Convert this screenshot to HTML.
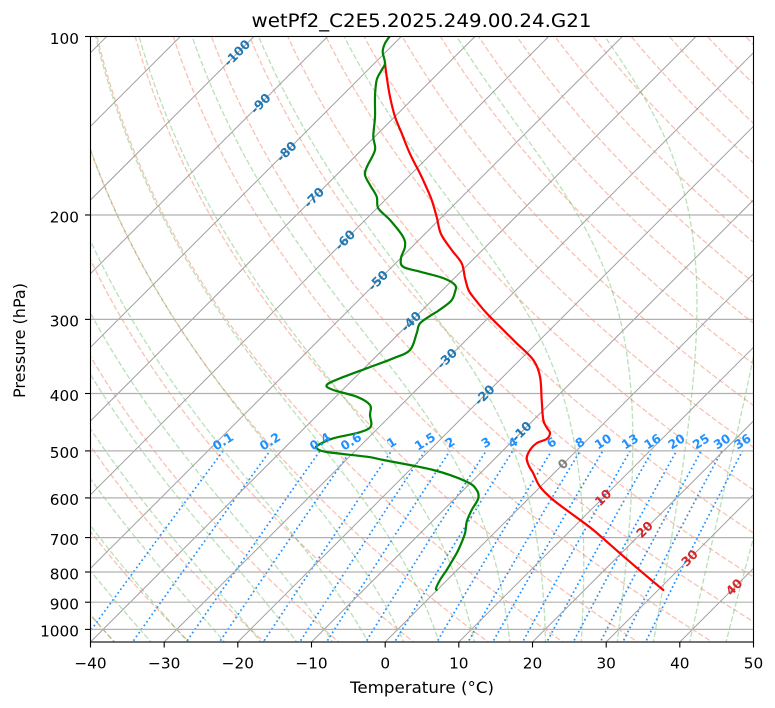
<!DOCTYPE html>
<html><head><meta charset="utf-8">
<style>
html,body{margin:0;padding:0;background:#fff;}
svg{display:block;font-family:"DejaVu Sans","Liberation Sans",sans-serif;}
</style></head><body>
<svg id="s" width="775" height="708" viewBox="0 0 775 708" xmlns="http://www.w3.org/2000/svg">
<defs><clipPath id="cp"><rect x="90.5" y="36.5" width="663" height="605.5"/></clipPath></defs>
<rect width="775" height="708" fill="#fff"/>
<g clip-path="url(#cp)">
 <g id="dry" fill="none" stroke="#f08060" stroke-opacity="0.48" stroke-width="1.3" stroke-dasharray="5.4 2.4"></g>
 <g id="moist" fill="none" stroke="#2ca02c" stroke-opacity="0.33" stroke-width="1.3" stroke-dasharray="5.4 2.4"></g>
 <g id="mix" fill="none" stroke="#1e90ff" stroke-width="1.7" stroke-dasharray="1.7 2.8"></g>
 <g id="iso" fill="none" stroke="#a0a0a0" stroke-width="1"></g>
 <g stroke="#b0b0b0" stroke-width="1.2">
  <line x1="90" x2="754" y1="214.98" y2="214.98"/>
  <line x1="90" x2="754" y1="319.4" y2="319.4"/>
  <line x1="90" x2="754" y1="393.5" y2="393.5"/>
  <line x1="90" x2="754" y1="450.9" y2="450.9"/>
  <line x1="90" x2="754" y1="497.9" y2="497.9"/>
  <line x1="90" x2="754" y1="537.6" y2="537.6"/>
  <line x1="90" x2="754" y1="572.0" y2="572.0"/>
  <line x1="90" x2="754" y1="602.2" y2="602.2"/>
  <line x1="90" x2="754" y1="629.4" y2="629.4"/>
 </g>
 <g id="curves">
 <polyline class="sm" fill="none" stroke="#ff0000" stroke-width="2.2" stroke-linejoin="round" stroke-linecap="round" points="385,63 386.7,76.7 390,96.7 395,116.7 401.7,133.3 408.3,150 414,162 420,173.5 426,186.5 431.7,200 436.7,217 441,234 451.7,250 461.7,263.3 465,278 468.5,290 474,298 486.7,313.3 500,326.7 516.7,343.3 533.3,360 540,376.7 541.7,400 543.3,420 547,428 550,433 546.7,439 537,443 530,450 526.7,458.3 529,466 533.3,473.3 540,486.7 553.3,500 573.3,515 593.3,530 620,553.3 643.3,573.3 663.3,590"/>
 <polyline class="sm" fill="none" stroke="#008000" stroke-width="2.2" stroke-linejoin="round" stroke-linecap="round" points="390,36 385,43.3 382.7,51.7 385,63.3 381.7,70 376.7,80 375,96.7 375,116.7 373.3,136.7 375,150 367,166.7 365,175 370,185 376.7,196.7 378.3,208.3 390,220 403,236.7 405,246.7 401,258 403,266.7 420,271.7 443,278 455,285 455,292 451,301 438,311 433,314 420,323.3 416.7,333.3 410,350 393.3,358.3 366.7,368.3 340,378.3 326.7,385 333.3,390 356.7,396.7 370,405 370,415 370.7,426.7 358.3,432.7 333.3,438.3 318.3,445 316.7,448.3 326.7,452 366.7,456.7 383.3,460 433.3,470 466.7,481.7 476.7,490 478.3,498.3 471.7,510 466.7,521.7 465,533.3 458.3,550 451.7,561.7 446.7,570 440,580 436,588.3 436.7,590"/>
 </g>
</g>

<!-- isotherm labels -->
<g font-size="12.5" font-weight="bold" text-anchor="middle">
 <g fill="#1f77b4">
  <text transform="translate(237,53) rotate(-45)" dy="0.35em">-100</text>
  <text transform="translate(260.5,103.5) rotate(-45)" dy="0.35em">-90</text>
  <text transform="translate(286.5,151.5) rotate(-45)" dy="0.35em">-80</text>
  <text transform="translate(314,197.5) rotate(-45)" dy="0.35em">-70</text>
  <text transform="translate(345,240) rotate(-45)" dy="0.35em">-60</text>
  <text transform="translate(378,280.5) rotate(-45)" dy="0.35em">-50</text>
  <text transform="translate(411,321.5) rotate(-45)" dy="0.35em">-40</text>
  <text transform="translate(447,358.5) rotate(-45)" dy="0.35em">-30</text>
  <text transform="translate(484.5,395) rotate(-45)" dy="0.35em">-20</text>
  <text transform="translate(521.5,431.5) rotate(-45)" dy="0.35em">-10</text>
 </g>
 <text fill="#7f7f7f" transform="translate(563,464) rotate(-45)" dy="0.35em">0</text>
 <g fill="#d62728">
  <text transform="translate(603,497.5) rotate(-45)" dy="0.35em">10</text>
  <text transform="translate(644.5,529.5) rotate(-45)" dy="0.35em">20</text>
  <text transform="translate(689.5,558) rotate(-45)" dy="0.35em">30</text>
  <text transform="translate(734,587) rotate(-45)" dy="0.35em">40</text>
 </g>
</g>

<!-- mixing ratio labels -->
<g font-size="12.3" font-weight="bold" text-anchor="middle" fill="#1e90ff">
 <text transform="translate(223,441.5) rotate(-32)" dy="0.35em">0.1</text>
 <text transform="translate(270,441.5) rotate(-32)" dy="0.35em">0.2</text>
 <text transform="translate(320,441.5) rotate(-32)" dy="0.35em">0.4</text>
 <text transform="translate(351,441.5) rotate(-32)" dy="0.35em">0.6</text>
 <text transform="translate(391.5,442.5) rotate(-32)" dy="0.35em">1</text>
 <text transform="translate(425,441.5) rotate(-32)" dy="0.35em">1.5</text>
 <text transform="translate(450,442.5) rotate(-32)" dy="0.35em">2</text>
 <text transform="translate(486,442.5) rotate(-32)" dy="0.35em">3</text>
 <text transform="translate(513,442.5) rotate(-32)" dy="0.35em">4</text>
 <text transform="translate(551.5,442.5) rotate(-32)" dy="0.35em">6</text>
 <text transform="translate(580,442.5) rotate(-32)" dy="0.35em">8</text>
 <text transform="translate(603,441.5) rotate(-32)" dy="0.35em">10</text>
 <text transform="translate(630,441.5) rotate(-32)" dy="0.35em">13</text>
 <text transform="translate(652.5,441.5) rotate(-32)" dy="0.35em">16</text>
 <text transform="translate(676.5,441.5) rotate(-32)" dy="0.35em">20</text>
 <text transform="translate(701,441.5) rotate(-32)" dy="0.35em">25</text>
 <text transform="translate(722,441.5) rotate(-32)" dy="0.35em">30</text>
 <text transform="translate(742.5,441.5) rotate(-32)" dy="0.35em">36</text>
</g>

<!-- frame -->
<rect x="90.5" y="36.5" width="663" height="605.5" fill="none" stroke="#000" stroke-width="1.1"/>
<!-- ticks -->
<g stroke="#000" stroke-width="1.1">
 <line x1="90.5" x2="90.5" y1="642" y2="647.5"/>
 <line x1="164.2" x2="164.2" y1="642" y2="647.5"/>
 <line x1="237.8" x2="237.8" y1="642" y2="647.5"/>
 <line x1="311.5" x2="311.5" y1="642" y2="647.5"/>
 <line x1="385.2" x2="385.2" y1="642" y2="647.5"/>
 <line x1="458.8" x2="458.8" y1="642" y2="647.5"/>
 <line x1="532.5" x2="532.5" y1="642" y2="647.5"/>
 <line x1="606.2" x2="606.2" y1="642" y2="647.5"/>
 <line x1="679.8" x2="679.8" y1="642" y2="647.5"/>
 <line x1="753.5" x2="753.5" y1="642" y2="647.5"/>
 <line x1="85" x2="90.5" y1="36.5" y2="36.5"/>
 <line x1="85" x2="90.5" y1="214.98" y2="214.98"/>
 <line x1="85" x2="90.5" y1="319.4" y2="319.4"/>
 <line x1="85" x2="90.5" y1="393.5" y2="393.5"/>
 <line x1="85" x2="90.5" y1="450.9" y2="450.9"/>
 <line x1="85" x2="90.5" y1="497.9" y2="497.9"/>
 <line x1="85" x2="90.5" y1="537.6" y2="537.6"/>
 <line x1="85" x2="90.5" y1="572.0" y2="572.0"/>
 <line x1="85" x2="90.5" y1="602.2" y2="602.2"/>
 <line x1="85" x2="90.5" y1="629.4" y2="629.4"/>
</g>
<g font-size="15.3" fill="#000" text-anchor="middle">
 <text x="90.5" y="668.3">−40</text>
 <text x="164.2" y="668.3">−30</text>
 <text x="237.8" y="668.3">−20</text>
 <text x="311.5" y="668.3">−10</text>
 <text x="385.2" y="668.3">0</text>
 <text x="458.8" y="668.3">10</text>
 <text x="532.5" y="668.3">20</text>
 <text x="606.2" y="668.3">30</text>
 <text x="679.8" y="668.3">40</text>
 <text x="753.5" y="668.3">50</text>
</g>
<g font-size="15.3" fill="#000" text-anchor="end">
 <text x="79" y="43.8">100</text>
 <text x="79" y="222.3">200</text>
 <text x="79" y="326.7">300</text>
 <text x="79" y="400.8">400</text>
 <text x="79" y="458.2">500</text>
 <text x="79" y="505.2">600</text>
 <text x="79" y="544.9">700</text>
 <text x="79" y="579.3">800</text>
 <text x="79" y="609.5">900</text>
 <text x="79" y="636.7">1000</text>
</g>
<text x="421.5" y="27" text-anchor="middle" font-size="19" textLength="340" lengthAdjust="spacingAndGlyphs">wetPf2_C2E5.2025.249.00.24.G21</text>
<text x="422" y="693" text-anchor="middle" font-size="15.8" textLength="144" lengthAdjust="spacingAndGlyphs">Temperature (°C)</text>
<text transform="translate(25,340.5) rotate(-90)" text-anchor="middle" font-size="15.8" textLength="115" lengthAdjust="spacingAndGlyphs">Pressure (hPa)</text>
</svg>
<script>
(function(){
var Y=function(p){return 36.5+592.9*Math.log(p/100)/Math.LN10;};
var X=function(T,p){return 90.5+(T+40)*7.3667+(642-Y(p));};
var ns='http://www.w3.org/2000/svg';
function pathFrom(arr){var s='';for(var i=0;i<arr.length;i++){s+=(i?'L':'M')+X(arr[i][1],arr[i][0]).toFixed(2)+' '+Y(arr[i][0]).toFixed(2);}return s;}
function add(gid,d){var e=document.createElementNS(ns,'path');e.setAttribute('d',d);document.getElementById(gid).appendChild(e);}
var ps=[];for(var p=1060;p>=95;p-=5)ps.push(p);
/* dry adiabats */
for(var th=-60;th<=230;th+=10){var arr=[];for(var i=0;i<ps.length;i++){var pp=ps[i];arr.push([pp,(th+273.15)*Math.pow(pp/1000,0.285714)-273.15]);}add('dry',pathFrom(arr));}
/* moist adiabats */
var Rd=287.04749,Lv=2.50084e6,Cp=1004.6662,eps=0.6219569;
function es(T){var t=T-273.15;return 6.112*Math.exp(17.67*t/(t+243.5));}
function f(p,T){var e=es(T);var rs=eps*e/(p-e);return (Rd*T+Lv*rs)/(Cp+Lv*Lv*rs*eps/(Rd*T*T))/p;}
function integ(T,p0,p1,h){var out=[[p0,T-273.15]];var p=p0;while((h<0&&p>p1)||(h>0&&p<p1)){var k1=f(p,T),k2=f(p+h/2,T+h/2*k1),k3=f(p+h/2,T+h/2*k2),k4=f(p+h,T+h*k3);T+=h/6*(k1+2*k2+2*k3+k4);p+=h;out.push([p,T-273.15]);}return out;}
for(var t0=-40;t0<=50;t0+=5){var up=integ(t0+273.15,1000,95,-5);var dn=integ(t0+273.15,1000,1060,5);var a=dn.reverse().concat(up.slice(1));add('moist',pathFrom(a));}
/* mixing ratio lines */
var ws=[0.1,0.2,0.4,0.6,1,1.5,2,3,4,6,8,10,13,16,20,25,30,36];
for(var j=0;j<ws.length;j++){var w=ws[j];var arr2=[];for(var p2=1060;p2>=500;p2-=10){var e=p2*w/(622+w);var L=Math.log(e/6.112);arr2.push([p2,243.5*L/(17.67-L)]);}add('mix',pathFrom(arr2));}
/* isotherms */
for(var T=-140;T<=60;T+=10){add('iso','M'+X(T,1060).toFixed(2)+' '+Y(1060).toFixed(2)+'L'+X(T,95).toFixed(2)+' '+Y(95).toFixed(2));}
/* smooth profile curves (Catmull-Rom) */
var pls=document.querySelectorAll('polyline.sm');
for(var k=0;k<pls.length;k++){
 var pl=pls[k];var raw=pl.getAttribute('points').trim().split(/\s+/);var P=[];
 for(var m=0;m<raw.length;m++){var c=raw[m].split(',');P.push([+c[0],+c[1]]);}
 var d='M'+P[0][0]+' '+P[0][1];
 for(var m2=0;m2<P.length-1;m2++){
  var p0=P[m2-1]||P[m2],p1=P[m2],q2=P[m2+1],p3=P[m2+2]||q2;
  var c1x=p1[0]+(q2[0]-p0[0])/6,c1y=p1[1]+(q2[1]-p0[1])/6;
  var c2x=q2[0]-(p3[0]-p1[0])/6,c2y=q2[1]-(p3[1]-p1[1])/6;
  d+='C'+c1x.toFixed(2)+' '+c1y.toFixed(2)+' '+c2x.toFixed(2)+' '+c2y.toFixed(2)+' '+q2[0]+' '+q2[1];
 }
 var np=document.createElementNS(ns,'path');
 np.setAttribute('d',d);np.setAttribute('fill','none');
 np.setAttribute('stroke',pl.getAttribute('stroke'));np.setAttribute('stroke-width','2.2');
 np.setAttribute('stroke-linejoin','round');np.setAttribute('stroke-linecap','round');
 pl.parentNode.replaceChild(np,pl);
}
})();
</script>
</body></html>
